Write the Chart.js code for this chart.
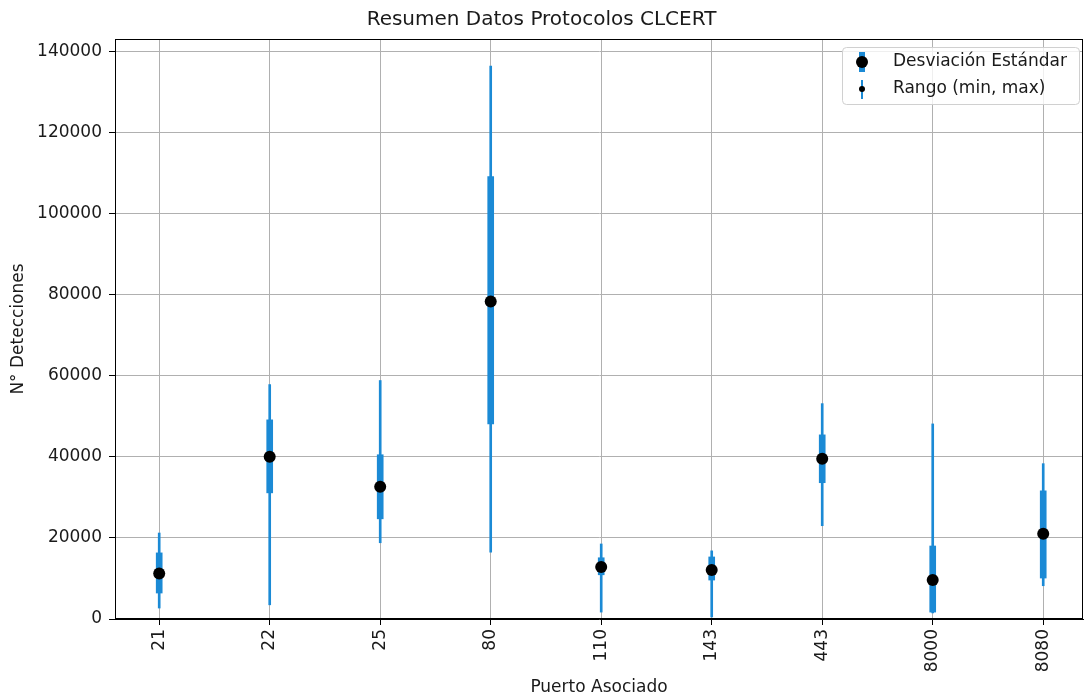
<!DOCTYPE html>
<html>
<head>
<meta charset="utf-8">
<script src="https://cdn.jsdelivr.net/npm/chart.js@4.4.1/dist/chart.umd.min.js"></script>
<style>
  html, body { margin: 0; padding: 0; background: #fff; }
  canvas { display: block; }
</style>
</head>
<body>
<canvas id="canvasChart" width="1085" height="700"></canvas>
<script>
// puertos y estadisticas
var ports = ['21', '22', '25', '80', '110', '143', '443', '8000', '8080'];
var means = [11200, 40000, 32600, 78300, 12800, 12100, 39500, 9600, 21000];
var stdLow = [6400, 31100, 24700, 48100, 10900, 9600, 33600, 1700, 10100];
var stdHigh = [16300, 49100, 40500, 109100, 15100, 15300, 45400, 18000, 31600];
var rangeMin = [2700, 3500, 18800, 16500, 1700, 500, 23000, 1500, 8200];
var rangeMax = [21200, 57800, 58800, 136300, 18500, 16800, 53100, 48100, 38300];
var yTicks = [0, 20000, 40000, 60000, 80000, 100000, 120000, 140000];
var legendLabels = ['Desviación Estándar', 'Rango (min, max)'];

var blue = '#1b8ad5';
var textColor = '#1a1a1a';

Chart.defaults.font.family = 'DejaVu Sans';
Chart.defaults.font.size = 17;
Chart.defaults.color = textColor;

// ejes superior/derecho y leyenda estilo matplotlib
var framePlugin = {
    id: 'frame',
    beforeDraw: function (chart) {
        var c = chart.ctx;
        c.save();
        c.fillStyle = '#fff';
        c.fillRect(0, 0, chart.width, chart.height);
        c.restore();
    },
    afterDraw: function (chart) {
        var c = chart.ctx;
        var a = chart.chartArea;
        c.save();
        c.strokeStyle = '#000';
        c.lineWidth = 1;
        c.strokeRect(a.left + 0.5, a.top + 0.5, a.right - a.left - 1, a.bottom - a.top - 1);

        // leyenda
        var bx = a.right - 241, by = a.top + 8, bw = 237, bh = 57;
        c.beginPath();
        c.roundRect(bx + 0.5, by + 0.5, bw, bh, 4);
        c.fillStyle = 'rgba(255,255,255,0.8)';
        c.fill();
        c.strokeStyle = '#d0d0d0';
        c.stroke();

        var mx = bx + 20;
        var y1 = by + 15, y2 = by + 42;
        c.fillStyle = blue;
        c.fillRect(mx - 3, y1 - 10, 6, 20);
        c.fillRect(mx - 1, y2 - 9, 2, 19);
        c.fillStyle = '#000';
        c.beginPath(); c.arc(mx, y1, 6, 0, Math.PI * 2); c.fill();
        c.beginPath(); c.arc(mx, y2, 3, 0, Math.PI * 2); c.fill();

        c.fillStyle = textColor;
        c.font = '17px "DejaVu Sans"';
        c.textBaseline = 'middle';
        c.textAlign = 'left';
        c.fillText(legendLabels[0], bx + 51, y1);
        c.fillText(legendLabels[1], bx + 51, y2);
        c.restore();
    }
};

var canvas = document.getElementById('canvasChart').getContext('2d');

var chartConfig = {
    type: 'bar',
    data: {
        datasets: [{
            type: 'scatter',
            label: 'Media',
            data: ports.map(function (p, i) { return {x: i, y: means[i]}; }),
            backgroundColor: '#000',
            borderColor: '#000',
            borderWidth: 0,
            pointRadius: 6,
            pointHoverRadius: 6,
            order: 0
        }, {
            label: legendLabels[0],
            data: ports.map(function (p, i) { return {x: i, y: [stdLow[i], stdHigh[i]]}; }),
            backgroundColor: blue,
            barThickness: 6,
            grouped: false,
            order: 1
        }, {
            label: legendLabels[1],
            data: ports.map(function (p, i) { return {x: i, y: [rangeMin[i], rangeMax[i]]}; }),
            backgroundColor: blue,
            barThickness: 2,
            grouped: false,
            order: 2
        }]
    },
    options: {
        responsive: false,
        animation: false,
        layout: {autoPadding: false, padding: {left: 0, right: 2, top: 0, bottom: 0}},
        plugins: {
            legend: {display: false},
            tooltip: {enabled: false},
            title: {
                display: true,
                text: 'Resumen Datos Protocolos CLCERT',
                color: textColor,
                font: {size: 20, weight: 'normal'},
                padding: {top: 8, bottom: 7}
            }
        },
        scales: {
            x: {
                type: 'linear',
                min: -0.4,
                max: 8.36,
                offset: false,
                afterBuildTicks: function (scale) {
                    scale.ticks = ports.map(function (p, i) { return {value: i}; });
                },
                afterFit: function (scale) { scale.height = 81; },
                ticks: {
                    minRotation: 90,
                    maxRotation: 90,
                    padding: 4,
                    color: textColor,
                    callback: function (v) { return ports[v]; }
                },
                grid: {
                    offset: false,
                    color: '#b0b0b0',
                    tickColor: '#000',
                    tickLength: 6,
                    lineWidth: 1
                },
                border: {color: '#000', width: 1},
                title: {
                    display: true,
                    text: 'Puerto Asociado',
                    color: textColor,
                    padding: {top: 0, bottom: 2}
                }
            },
            y: {
                min: 0,
                max: 143000,
                afterBuildTicks: function (scale) {
                    scale.ticks = yTicks.map(function (v) { return {value: v}; });
                },
                afterFit: function (scale) { scale.width = 115; },
                ticks: {
                    padding: 7,
                    color: textColor,
                    callback: function (v) { return String(v); }
                },
                grid: {
                    color: '#b0b0b0',
                    tickColor: '#000',
                    tickLength: 6,
                    lineWidth: 1
                },
                border: {color: '#000', width: 1},
                title: {
                    display: true,
                    text: 'N° Detecciones',
                    color: textColor,
                    padding: {top: 8, bottom: 0}
                }
            }
        }
    },
    plugins: [framePlugin]
};

var chartObject = new Chart(canvas, chartConfig);
</script>
</body>
</html>
